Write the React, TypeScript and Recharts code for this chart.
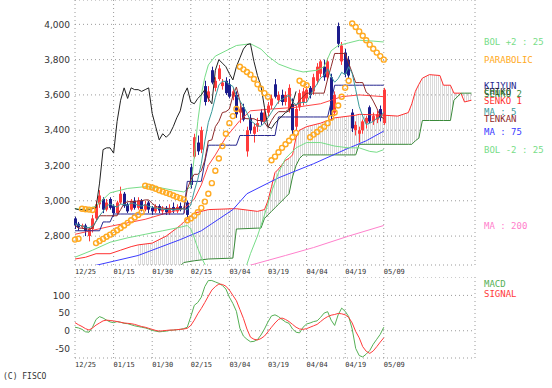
import {
  Area,
  Bar,
  CartesianGrid,
  ComposedChart,
  Line,
  ReferenceDot,
  XAxis,
  YAxis
} from "recharts";

// tick labels on the date axis (index of trading day -> label)
const TICK_IDX = [0, 11, 22, 33, 44, 55, 66, 77, 88];
const TICK_LABELS = ["12/25", "01/15", "01/30", "02/15", "03/04", "03/19", "04/04", "04/19", "05/09"];

const PRICE_TICKS = [2800, 3000, 3200, 3400, 3600, 3800, 4000];
const MACD_TICKS = [-50, 0, 50, 100];

// daily candles, index 0 = 12/25
const OPEN = [2900, 2870, 2850, 2860, 2800, 2840, 2900, 2980, 3010, 2950, 3010, 2970, 2930, 2990, 3040, 2980, 2950, 3000, 2960, 3000, 2950, 2990, 2960, 2940, 2970, 2940, 2960, 2930, 2965, 2940, 2970, 2950, 2990, 3190, 3250, 3330, 3290, 3650, 3580, 3740, 3640, 3690, 3650, 3680, 3660, 3590, 3600, 3500, 3530, 3280, 3470, 3380, 3420, 3500, 3450, 3500, 3540, 3660, 3570, 3600, 3560, 3520, 3550, 3420, 3530, 3560, 3580, 3640, 3620, 3680, 3720, 3760, 3700, 3700, 3500, 3990, 3790, 3840, 3800, 3500, 3400, 3380, 3400, 3440, 3530, 3450, 3460, 3520, 3440];
const HIGH = [2910, 2880, 2870, 2870, 2850, 2920, 3000, 3060, 3020, 3010, 3020, 2980, 3000, 3080, 3050, 2990, 3010, 3020, 3020, 3010, 3000, 3000, 2970, 2980, 2980, 2970, 2970, 2980, 2990, 2980, 2990, 2980, 3000, 3210, 3380, 3370, 3420, 3680, 3650, 3760, 3700, 3770, 3690, 3700, 3690, 3640, 3620, 3540, 3550, 3420, 3490, 3440, 3470, 3520, 3520, 3560, 3600, 3690, 3620, 3630, 3620, 3660, 3580, 3540, 3630, 3640, 3650, 3650, 3720, 3780, 3800, 3800, 3810, 3720, 3620, 4010, 3900, 3860, 3820, 3520, 3450, 3420, 3460, 3480, 3540, 3500, 3510, 3540, 3640];
const LOW = [2840, 2830, 2840, 2800, 2770, 2820, 2890, 2960, 2930, 2940, 2950, 2910, 2920, 2980, 2960, 2930, 2940, 2950, 2950, 2940, 2940, 2930, 2920, 2930, 2930, 2920, 2920, 2920, 2930, 2930, 2940, 2930, 2900, 3070, 3240, 3260, 3270, 3540, 3560, 3660, 3620, 3680, 3630, 3600, 3580, 3570, 3470, 3440, 3450, 3250, 3380, 3330, 3390, 3430, 3440, 3480, 3520, 3580, 3550, 3540, 3540, 3500, 3380, 3400, 3510, 3540, 3560, 3580, 3600, 3660, 3700, 3680, 3690, 3460, 3480, 3870, 3770, 3700, 3690, 3390, 3370, 3330, 3380, 3410, 3440, 3430, 3440, 3450, 3430];
const CLOSE = [2860, 2850, 2860, 2830, 2840, 2900, 2980, 3030, 2950, 2990, 2960, 2930, 2990, 3040, 2970, 2940, 3000, 2960, 3000, 2950, 2980, 2950, 2940, 2970, 2945, 2955, 2935, 2960, 2945, 2965, 2950, 2960, 2920, 3090, 3360, 3280, 3400, 3560, 3620, 3670, 3680, 3750, 3670, 3610, 3590, 3620, 3490, 3520, 3460, 3400, 3400, 3420, 3440, 3450, 3500, 3540, 3580, 3590, 3600, 3560, 3600, 3640, 3400, 3520, 3610, 3620, 3630, 3600, 3700, 3760, 3790, 3700, 3790, 3480, 3600, 3890, 3880, 3720, 3710, 3410, 3430, 3400, 3450, 3470, 3450, 3480, 3490, 3470, 3630];

const MA5 = [2870, 2862, 2858, 2850, 2848, 2856, 2882, 2916, 2940, 2970, 2982, 2972, 2964, 2982, 2978, 2974, 2988, 2982, 2974, 2970, 2978, 2968, 2964, 2958, 2957, 2952, 2949, 2953, 2948, 2952, 2951, 2956, 2948, 2977, 3056, 3122, 3210, 3338, 3444, 3506, 3586, 3656, 3678, 3676, 3660, 3648, 3596, 3566, 3536, 3498, 3454, 3440, 3424, 3422, 3442, 3470, 3502, 3532, 3562, 3574, 3586, 3598, 3560, 3544, 3554, 3558, 3556, 3596, 3632, 3662, 3696, 3710, 3748, 3704, 3672, 3692, 3728, 3714, 3760, 3722, 3630, 3534, 3480, 3432, 3440, 3450, 3468, 3472, 3504];
const TENKAN = [2860, 2845, 2845, 2840, 2840, 2845, 2885, 2915, 2915, 2915, 2915, 2915, 2915, 2950, 2985, 2995, 2995, 2995, 3000, 3000, 3005, 3005, 2985, 2970, 2960, 2960, 2955, 2955, 2955, 2955, 2955, 2955, 3065, 3120, 3150, 3150, 3170, 3230, 3340, 3345, 3420, 3450, 3500, 3505, 3520, 3595, 3645, 3565, 3470, 3465, 3465, 3465, 3455, 3455, 3445, 3415, 3455, 3485, 3505, 3505, 3505, 3520, 3545, 3540, 3570, 3590, 3610, 3610, 3610, 3610, 3610, 3610, 3690, 3760, 3835, 3835, 3835, 3835, 3780, 3725, 3670, 3670, 3670, 3615, 3600, 3565, 3525, 3480, 3465];
const KIJUN = [2830, 2830, 2830, 2830, 2830, 2830, 2830, 2830, 2880, 2880, 2880, 2925, 2925, 2925, 2925, 2925, 2925, 2925, 2925, 2925, 2925, 2925, 2925, 2925, 2925, 2925, 2925, 2925, 2925, 2925, 2925, 2925, 3110, 3110, 3110, 3110, 3110, 3220, 3315, 3315, 3315, 3315, 3315, 3315, 3315, 3315, 3315, 3370, 3370, 3370, 3370, 3370, 3370, 3370, 3370, 3370, 3370, 3370, 3475, 3475, 3475, 3475, 3475, 3475, 3475, 3475, 3475, 3475, 3475, 3475, 3475, 3475, 3475, 3560, 3655, 3655, 3655, 3655, 3655, 3655, 3655, 3655, 3655, 3655, 3655, 3655, 3655, 3655, 3655];
const SAR = [2780, 2785, 2955, 2952, 2950, 2948, 2760, 2772, 2784, 2796, 2808, 2820, 2833, 2846, 2860, 2875, 2890, 2905, 2920, 2935, 3085, 3080, 3075, 3068, 3060, 3052, 3045, 3038, 3030, 3022, 3015, 3008, 2890, 2900, 2915, 2935, 2960, 2995, 3040, 3100, 3170, 3240, 3310, 3380, 3440, 3480, 3520, 3760, 3745, 3730, 3715, 3690, 3660, 3635, 3610, 3590, 3230, 3250, 3275, 3300, 3320, 3340, 3360, 3385, 3680, 3665, 3655, 3360, 3375, 3390, 3405, 3420, 3440, 3470, 3500, 3540, 3590, 3640, 3680, 4005, 3985, 3960, 3935, 3910, 3885, 3862, 3840, 3820, 3800];

// lagging span, already drawn 25 days back (index 0 = 12/25)
const CHIKOU = [2955, 2950, 2950, 2945, 2950, 2955, 2960, 3100, 3290, 3300, 3300, 3270, 3450, 3570, 3640, 3580, 3640, 3630, 3630, 3620, 3630, 3640, 3495, 3420, 3345, 3380, 3360, 3380, 3420, 3470, 3510, 3600, 3640, 3560, 3550, 3580, 3600, 3630, 3580, 3550, 3740, 3800, 3780, 3760, 3720, 3685, 3760, 3810, 3860, 3885, 3890, 3790, 3710, 3650, 3530, 3420, 3410, 3440, 3460, 3480, 3500, 3510, 3550, 3620];

// smooth lines, read as [day index, value]
const MA25: [number, number][] = [[0, 2810], [10, 2855], [20, 2895], [26, 2930], [30, 2950], [32, 2970], [34, 3010], [36, 3090], [38, 3200], [40, 3260], [43, 3360], [47, 3455], [50, 3510], [56, 3520], [63, 3530], [70, 3550], [76, 3590], [81, 3600], [88, 3590]];
const BOL_UP: [number, number][] = [[0, 2955], [3, 2950], [6, 2970], [10, 3045], [15, 3070], [20, 3080], [24, 3075], [28, 3060], [31, 3050], [33, 3080], [34, 3250], [35, 3450], [36, 3600], [37, 3700], [38, 3770], [40, 3820], [43, 3850], [46, 3880], [50, 3890], [53, 3860], [55, 3820], [58, 3775], [62, 3745], [65, 3730], [69, 3740], [71, 3760], [73, 3850], [75, 3880], [78, 3895], [81, 3910], [85, 3905], [88, 3900]];
const BOL_DN: [number, number][] = [[0, 2680], [5, 2720], [10, 2765], [15, 2790], [20, 2810], [25, 2830], [30, 2850], [32, 2860], [33, 2840], [34, 2790], [35, 2730], [36, 2680], [37, 2640], [38, 2600], [40, 2540], [43, 2480], [46, 2470], [48, 2560], [49, 2640], [50, 2700], [52, 2800], [54, 2920], [56, 3050], [58, 3160], [60, 3240], [63, 3300], [66, 3330], [70, 3330], [74, 3310], [78, 3300], [81, 3300], [84, 3280], [86, 3275], [88, 3290]];
const MA75: [number, number][] = [[0, 2590], [4, 2625], [18, 2690], [30, 2780], [36, 2830], [39, 2870], [45, 2950], [49, 3040], [58, 3130], [68, 3210], [77, 3290], [83, 3340], [88, 3395]];
const MA200: [number, number][] = [[40, 2575], [50, 2635], [60, 2690], [68, 2735], [78, 2800], [88, 2860]];

// ichimoku cloud, shifted 25 days ahead: [day index, senkou 1, senkou 2]
const SENKOU_1_EARLY: [number, number][] = [[0, 2670], [3, 2680], [6, 2700], [10, 2700], [13, 2720], [16, 2740], [18, 2750]];
const CLOUD: [number, number, number][] = [[18, 2750, 2600], [22, 2760, 2600], [26, 2800, 2610], [30, 2860, 2630], [31, 2880, 2650], [34, 2930, 2660], [38, 2950, 2670], [45, 2955, 2675], [46, 2955, 2840], [52, 2940, 2845], [53, 2945, 2845], [54, 2950, 2900], [55, 3000, 2920], [56, 3080, 2940], [57, 3160, 2960], [58, 3180, 2980], [60, 3230, 3020], [61, 3240, 3040], [62, 3260, 3135], [63, 3360, 3200], [64, 3400, 3240], [65, 3410, 3260], [66, 3420, 3260], [70, 3440, 3260], [74, 3470, 3260], [80, 3485, 3260], [81, 3490, 3320], [88, 3485, 3320], [92, 3480, 3320], [95, 3500, 3320], [96, 3550, 3320], [97, 3620, 3340], [98, 3660, 3355], [99, 3695, 3455], [101, 3715, 3455], [104, 3710, 3455], [105, 3655, 3455], [107, 3655, 3455], [108, 3610, 3570], [110, 3610, 3610], [111, 3560, 3610], [113, 3570, 3610]];

const MACD = [10, 8, 4, -3, -4, 10, 32, 40, 36, 30, 25, 23, 26, 24, 21, 20, 17, 14, 12, 10, 8, 5, 1, -1, -3, -2, -1, 1, 2, 3, 4, 6, 10, 40, 72, 80, 95, 125, 142, 142, 138, 134, 128, 118, 95, 77, 55, 7, -15, -24, -31, -30, -25, -12, 5, 25, 42, 45, 40, 32, 25, 21, 5, -4, -6, 10, 19, 22, 26, 28, 38, 50, 54, 30, 15, 45, 64, 55, 40, 5, -50, -70, -74, -66, -56, -38, -24, -10, 10];
const SIGNAL = [23, 17, 12, 6, 2, 8, 16, 22, 28, 30, 29, 28, 26, 24, 22, 21, 20, 18, 15, 12, 10, 7, 4, 1, -1, 0, 1, 2, 2, 3, 4, 5, 7, 15, 30, 48, 63, 80, 98, 115, 125, 132, 131, 126, 115, 100, 85, 60, 35, 5, -18, -24, -26, -22, -15, -3, 10, 22, 32, 36, 32, 26, 18, 10, 5, 4, 6, 10, 14, 18, 26, 34, 40, 44, 46, 49, 48, 45, 38, 22, -2, -20, -45, -58, -64, -57, -45, -32, -20];

const C = {
  up: "#ff3b3b",
  down: "#1c1c8c",
  bol: "#77dd88",
  ma25: "#ff4444",
  senkou1: "#ff3030",
  senkou2: "#3a8a3a",
  kijun: "#26268f",
  tenkan: "#8e2a2a",
  chikou: "#222222",
  ma5: "#3a9a9a",
  ma75: "#3a3aff",
  ma200: "#ff80cc",
  sar: "#ffaa22",
  macd: "#55b055",
  signal: "#ff3b3b",
  grid: "#9a9a9a",
  text: "#333333"
};

const MONO = "'DejaVu Sans Mono', monospace";
const LABEL_X = 484;

const toRows = (pts: [number, number][]) => pts.map(([k, v]) => ({ k, v }));

const candleRows = CLOSE.map((c, k) => ({
  k,
  o: OPEN[k],
  h: HIGH[k],
  l: LOW[k],
  c,
  ma5: MA5[k],
  tenkan: TENKAN[k],
  kijun: KIJUN[k],
  sar: SAR[k]
}));
const chikouRows = CHIKOU.map((v, k) => ({ k, v }));
const cloudRows = CLOUD.map(([k, a, b]) => ({ k, a, b, range: [Math.min(a, b), Math.max(a, b)] }));
const senkouEarlyRows = toRows(SENKOU_1_EARLY);
const macdRows = MACD.map((m, k) => ({ k, macd: m, signal: SIGNAL[k] }));

const lastOf = (pts: [number, number][]) => pts[pts.length - 1];
const lastDay = CLOSE.length - 1;
const lastCloud = CLOUD[CLOUD.length - 1];

const endLabels = [
  { x: lastOf(BOL_UP)[0], y: lastOf(BOL_UP)[1], text: "BOL +2 : 25", color: C.bol },
  { x: lastDay, y: SAR[lastDay], text: "PARABOLIC", color: C.sar },
  { x: lastDay, y: KIJUN[lastDay], text: "KIJYUN", color: C.kijun },
  { x: CHIKOU.length - 1, y: CHIKOU[CHIKOU.length - 1], text: "CHIKO", color: C.chikou },
  { x: lastCloud[0], y: lastCloud[2], text: "SENKO 2", color: C.senkou2 },
  { x: lastCloud[0], y: lastCloud[1], text: "SENKO 1", color: C.senkou1 },
  { x: lastDay, y: MA5[lastDay], text: "MA : 5", color: C.ma5 },
  { x: lastDay, y: TENKAN[lastDay], text: "TENKAN", color: C.tenkan },
  { x: lastOf(MA75)[0], y: lastOf(MA75)[1], text: "MA : 75", color: C.ma75 },
  { x: lastOf(BOL_DN)[0], y: lastOf(BOL_DN)[1], text: "BOL -2 : 25", color: C.bol },
  { x: lastOf(MA200)[0], y: lastOf(MA200)[1], text: "MA : 200", color: C.ma200 }
];

const Candle = (props: any) => {
  const { x, y, width, height, payload } = props;
  if (!payload || x == null || y == null) return null;
  const top = Math.min(y, y + height);
  const span = Math.abs(height);
  const range = payload.h - payload.l || 1;
  const yOf = (v: number) => top + ((payload.h - v) / range) * span;
  const color = payload.c >= payload.o ? C.up : C.down;
  const bTop = yOf(Math.max(payload.o, payload.c));
  const bBot = yOf(Math.min(payload.o, payload.c));
  const mid = Math.round(x + width / 2) + 0.5;
  return (
    <g>
      <line x1={mid} x2={mid} y1={top} y2={top + span} stroke={color} strokeWidth={1} />
      <rect x={mid - 1.5} y={bTop} width={3} height={Math.max(1, bBot - bTop)} fill={color} />
    </g>
  );
};

const dateTick = (props: any) => {
  const { x, y, payload } = props;
  const i = TICK_IDX.indexOf(payload.value);
  return (
    <text x={x} y={y + 7} textAnchor="start" fontSize={7} fontFamily={MONO} fill={C.text}>
      {TICK_LABELS[i]}
    </text>
  );
};

const line = (key: string, color: string, data?: any[]) => (
  <Line
    key={key + color}
    data={data}
    dataKey={data ? "v" : key}
    type="linear"
    stroke={color}
    strokeWidth={1}
    dot={false}
    activeDot={false}
    isAnimationActive={false}
  />
);

export default function App() {
  return (
    <div style={{ position: "absolute", left: 0, top: 0, width: 552, height: 388, background: "#fff", overflow: "hidden" }}>
      <div style={{ position: "absolute", left: 0, top: 0 }}>
        <ComposedChart width={552} height={280} data={candleRows} margin={{ top: 0, right: 77, bottom: 0, left: 0 }}>
          <defs>
            <pattern id="hatch" width="2" height="4" patternUnits="userSpaceOnUse">
              <rect x="0" y="0" width="1" height="4" fill="#dadada" />
            </pattern>
          </defs>
          <CartesianGrid stroke={C.grid} strokeDasharray="1 3" />
          <XAxis
            dataKey="k"
            type="number"
            domain={[0, 114]}
            ticks={TICK_IDX}
            interval={0}
            height={15}
            tickLine={false}
            axisLine={false}
            tickSize={0}
            tick={dateTick}
          />
          <YAxis
            domain={[2636, 4138]}
            ticks={PRICE_TICKS}
            allowDataOverflow
            width={75}
            tickLine={false}
            axisLine={false}
            tickSize={3}
            tickMargin={2}
            tick={{ fontSize: 9, fill: C.text, fontFamily: "'DejaVu Sans', sans-serif" }}
            tickFormatter={(v: number) => v.toLocaleString("en-US")}
          />
          <Area
            data={cloudRows}
            dataKey="range"
            type="linear"
            stroke="none"
            fill="url(#hatch)"
            fillOpacity={1}
            dot={false}
            activeDot={false}
            isAnimationActive={false}
          />
          {line("v", C.senkou1, senkouEarlyRows)}
          <Line data={cloudRows} dataKey="a" type="linear" stroke={C.senkou1} strokeWidth={1} dot={false} activeDot={false} isAnimationActive={false} />
          <Line data={cloudRows} dataKey="b" type="linear" stroke={C.senkou2} strokeWidth={1} dot={false} activeDot={false} isAnimationActive={false} />
          {line("v", C.ma200, toRows(MA200))}
          {line("v", C.ma75, toRows(MA75))}
          {line("v", C.bol, toRows(BOL_UP))}
          {line("v", C.bol, toRows(BOL_DN))}
          {line("v", C.ma25, toRows(MA25))}
          {line("kijun", C.kijun)}
          {line("tenkan", C.tenkan)}
          {line("ma5", C.ma5)}
          {line("v", C.chikou, chikouRows)}
          <Bar dataKey={(d: any) => [d.l, d.h]} barSize={3} shape={Candle} isAnimationActive={false} />
          <Line
            dataKey="sar"
            stroke="none"
            dot={{ r: 2.5, stroke: C.sar, strokeWidth: 1.4, fill: "none" }}
            activeDot={false}
            isAnimationActive={false}
          />
          {endLabels.map((lb) => (
            <ReferenceDot
              key={lb.text}
              x={lb.x}
              y={lb.y}
              r={0}
              ifOverflow="visible"
              shape={(p: any) => (
                <text x={LABEL_X} y={p.cy + 3.5} fontSize={9} fontFamily={MONO} fill={lb.color}>
                  {lb.text}
                </text>
              )}
            />
          ))}
        </ComposedChart>
      </div>

      <div style={{ position: "absolute", left: 0, top: 277 }}>
        <ComposedChart width={552} height={96} data={macdRows} margin={{ top: 0, right: 77, bottom: 0, left: 0 }}>
          <CartesianGrid stroke={C.grid} strokeDasharray="1 3" />
          <XAxis
            dataKey="k"
            type="number"
            domain={[0, 114]}
            ticks={TICK_IDX}
            interval={0}
            height={15}
            tickLine={false}
            axisLine={false}
            tickSize={0}
            tick={dateTick}
          />
          <YAxis
            domain={[-77, 152]}
            ticks={MACD_TICKS}
            allowDataOverflow
            width={75}
            tickLine={false}
            axisLine={false}
            tickSize={3}
            tickMargin={2}
            tick={{ fontSize: 9, fill: C.text, fontFamily: "'DejaVu Sans', sans-serif" }}
          />
          <Line dataKey="macd" type="linear" stroke={C.macd} strokeWidth={1} dot={false} activeDot={false} isAnimationActive={false} />
          <Line dataKey="signal" type="linear" stroke={C.signal} strokeWidth={1} dot={false} activeDot={false} isAnimationActive={false} />
        </ComposedChart>
      </div>

      <div style={{ position: "absolute", left: 484, top: 280, font: `9px ${MONO}`, lineHeight: "9px", color: C.macd }}>MACD</div>
      <div style={{ position: "absolute", left: 484, top: 290, font: `9px ${MONO}`, lineHeight: "9px", color: C.signal }}>SIGNAL</div>
      <div style={{ position: "absolute", left: 3, top: 372, font: `8px ${MONO}`, lineHeight: "9px", color: C.text }}>(C) FISCO</div>
    </div>
  );
}
